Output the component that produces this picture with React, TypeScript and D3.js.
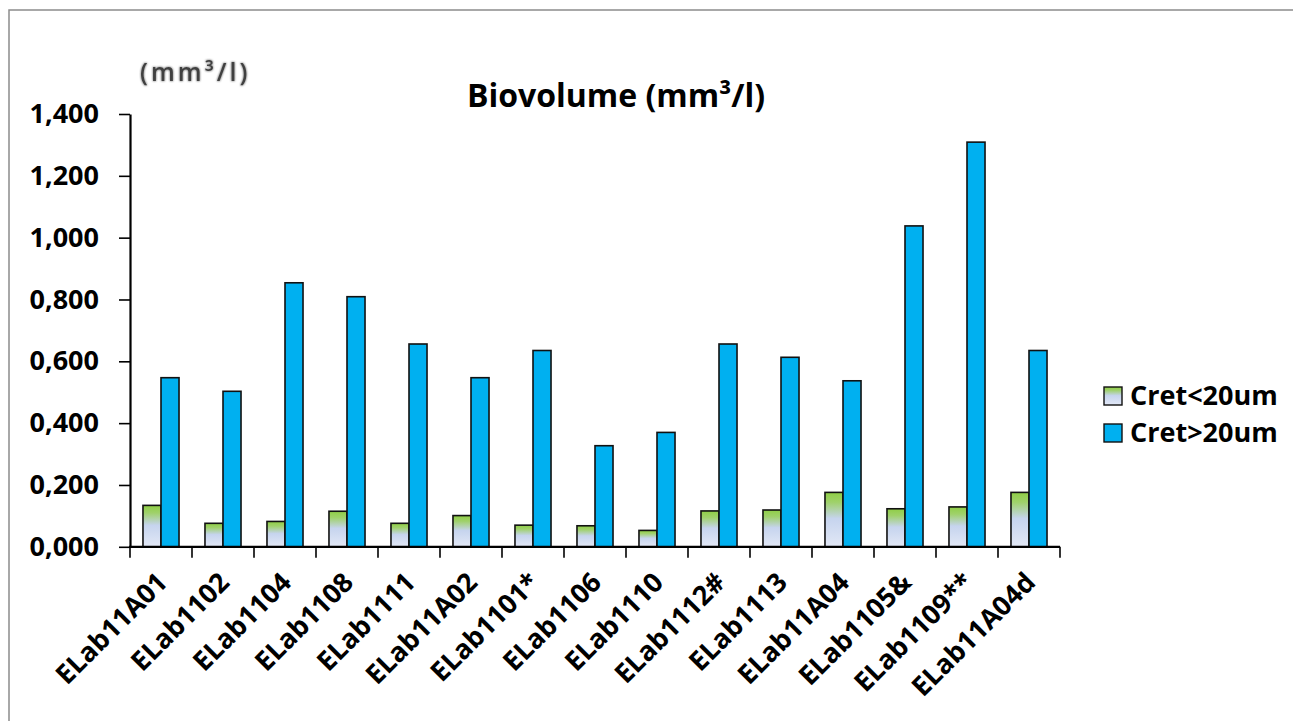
import React, { useEffect, useRef } from 'react';
import * as d3 from 'd3';

const categories = ['ELab11A01', 'ELab1102', 'ELab1104', 'ELab1108', 'ELab1111', 'ELab11A02', 'ELab1101*', 'ELab1106', 'ELab1110', 'ELab1112#', 'ELab1113', 'ELab11A04', 'ELab1105&', 'ELab1109**', 'ELab11A04d'];
const cretSmall = [0.134, 0.076, 0.082, 0.115, 0.076, 0.101, 0.070, 0.068, 0.053, 0.116, 0.119, 0.176, 0.123, 0.129, 0.176];
const cretLarge = [0.547, 0.503, 0.854, 0.809, 0.656, 0.547, 0.635, 0.327, 0.370, 0.656, 0.613, 0.537, 1.038, 1.309, 0.635];
const seriesNames = ['Cret<20um', 'Cret>20um'];
const yTicks = [0, 0.2, 0.4, 0.6, 0.8, 1.0, 1.2, 1.4];

const W = 1293, H = 721;
const FONT = "'Open Sans', 'Noto Sans', sans-serif";

const App = () => {
    const ref = useRef<SVGSVGElement>(null);

    useEffect(() => {
        const svg = d3.select(ref.current);
        svg.selectAll('*').remove();

        const defs = svg.append('defs');
        const grad = defs.append('linearGradient')
            .attr('id', 'gSmall').attr('x1', 0).attr('y1', 0).attr('x2', 0).attr('y2', 1);
        grad.append('stop').attr('offset', '0%').attr('stop-color', '#8fce46');
        grad.append('stop').attr('offset', '18%').attr('stop-color', '#9fd16a');
        grad.append('stop').attr('offset', '48%').attr('stop-color', '#c6d4ee');
        grad.append('stop').attr('offset', '100%').attr('stop-color', '#e2e8f6');

        // soft halo around the unit label
        const glow = defs.append('filter').attr('id', 'glow')
            .attr('x', '-10%').attr('y', '-30%').attr('width', '120%').attr('height', '160%');
        glow.append('feGaussianBlur').attr('in', 'SourceAlpha').attr('stdDeviation', 1.3).attr('result', 'b');
        glow.append('feFlood').attr('flood-color', '#9a9a9a');
        glow.append('feComposite').attr('in2', 'b').attr('operator', 'in').attr('result', 'halo');
        const merge = glow.append('feMerge');
        merge.append('feMergeNode').attr('in', 'halo');
        merge.append('feMergeNode').attr('in', 'halo');
        merge.append('feMergeNode').attr('in', 'SourceGraphic');

        // chart frame
        svg.append('rect')
            .attr('x', 9).attr('y', 10).attr('width', W + 20).attr('height', H + 20)
            .attr('fill', 'white').attr('stroke', '#8c8c8c').attr('stroke-width', 1.5);

        const x = d3.scaleBand().domain(categories).range([130, 1060]).paddingInner(0).paddingOuter(0);
        const x1 = d3.scaleBand().domain(seriesNames).range([0, x.bandwidth()]).paddingInner(0).paddingOuter(0.72);
        const y = d3.scaleLinear().domain([0, 1.4]).range([546.8, 114]);
        const fmt = (d) => d3.format('.3f')(d).replace('.', ',');

        // title
        svg.append('text')
            .attr('x', 616).attr('y', 107)
            .attr('text-anchor', 'middle')
            .style('font-family', FONT).style('font-weight', 'bold').style('font-size', '32px')
            .text('Biovolume (mm³/l)');

        // unit label
        svg.append('text')
            .attr('x', 140).attr('y', 81)
            .attr('fill', '#3f3f3f').attr('filter', 'url(#glow)')
            .style('font-family', FONT).style('font-weight', '600').style('font-size', '25px')
            .style('letter-spacing', '3px')
            .text('(mm³/l)');

        // bars
        const groups = svg.append('g').selectAll('g')
            .data(categories)
            .enter().append('g')
            .attr('transform', (d) => 'translate(' + x(d) + ',0)');

        groups.append('rect')
            .attr('x', x1('Cret<20um'))
            .attr('y', (d, i) => y(cretSmall[i]))
            .attr('width', x1.bandwidth())
            .attr('height', (d, i) => y(0) - y(cretSmall[i]))
            .attr('fill', 'url(#gSmall)')
            .attr('stroke', '#111').attr('stroke-width', 1.6);

        groups.append('rect')
            .attr('x', x1('Cret>20um'))
            .attr('y', (d, i) => y(cretLarge[i]))
            .attr('width', x1.bandwidth())
            .attr('height', (d, i) => y(0) - y(cretLarge[i]))
            .attr('fill', '#00b0f0')
            .attr('stroke', '#111').attr('stroke-width', 1.6);

        // y axis
        const yAxis = svg.append('g')
            .attr('transform', 'translate(130,0)')
            .call(d3.axisLeft(y).tickValues(yTicks).tickFormat(fmt).tickSize(11).tickSizeOuter(0).tickPadding(20));
        yAxis.select('.domain').attr('stroke', '#000').attr('stroke-width', 2.2);
        yAxis.selectAll('.tick line').attr('stroke', '#000').attr('stroke-width', 1.6);
        yAxis.selectAll('.tick text')
            .attr('fill', '#000')
            .style('font-family', FONT).style('font-weight', 'bold').style('font-size', '27px');

        // x axis
        const xAxis = svg.append('g');
        xAxis.append('line')
            .attr('x1', x.range()[0] - 1).attr('x2', x.range()[1])
            .attr('y1', y(0)).attr('y2', y(0))
            .attr('stroke', '#000').attr('stroke-width', 2.2);
        const bounds = categories.map((c) => x(c)).concat([x.range()[1]]);
        xAxis.selectAll('line.tk')
            .data(bounds)
            .enter().append('line')
            .attr('class', 'tk')
            .attr('x1', (d) => d).attr('x2', (d) => d)
            .attr('y1', y(0)).attr('y2', y(0) + 11)
            .attr('stroke', '#000').attr('stroke-width', 1.6);
        xAxis.selectAll('text')
            .data(categories)
            .enter().append('text')
            .attr('transform', (d) => 'translate(' + (x(d) + x.bandwidth() / 2 + 8) + ',584) rotate(-45)')
            .attr('text-anchor', 'end')
            .style('font-family', FONT).style('font-weight', 'bold').style('font-size', '27px')
            .text((d) => d);

        // legend
        const legend = svg.append('g').selectAll('g')
            .data(seriesNames)
            .enter().append('g')
            .attr('transform', (d, i) => 'translate(1104,' + (387 + i * 37) + ')');
        legend.append('rect')
            .attr('width', 18).attr('height', 18)
            .attr('fill', (d, i) => i === 0 ? 'url(#gSmall)' : '#00b0f0')
            .attr('stroke', '#111').attr('stroke-width', 1.4);
        legend.append('text')
            .attr('x', 26).attr('y', 18)
            .style('font-family', FONT).style('font-weight', 'bold').style('font-size', '27px')
            .text((d) => d);
    }, []);

    return (
        <svg ref={ref} width={W} height={H} style={{ position: 'absolute', left: 0, top: 0, display: 'block', background: 'white' }} />
    );
};

export default App;
